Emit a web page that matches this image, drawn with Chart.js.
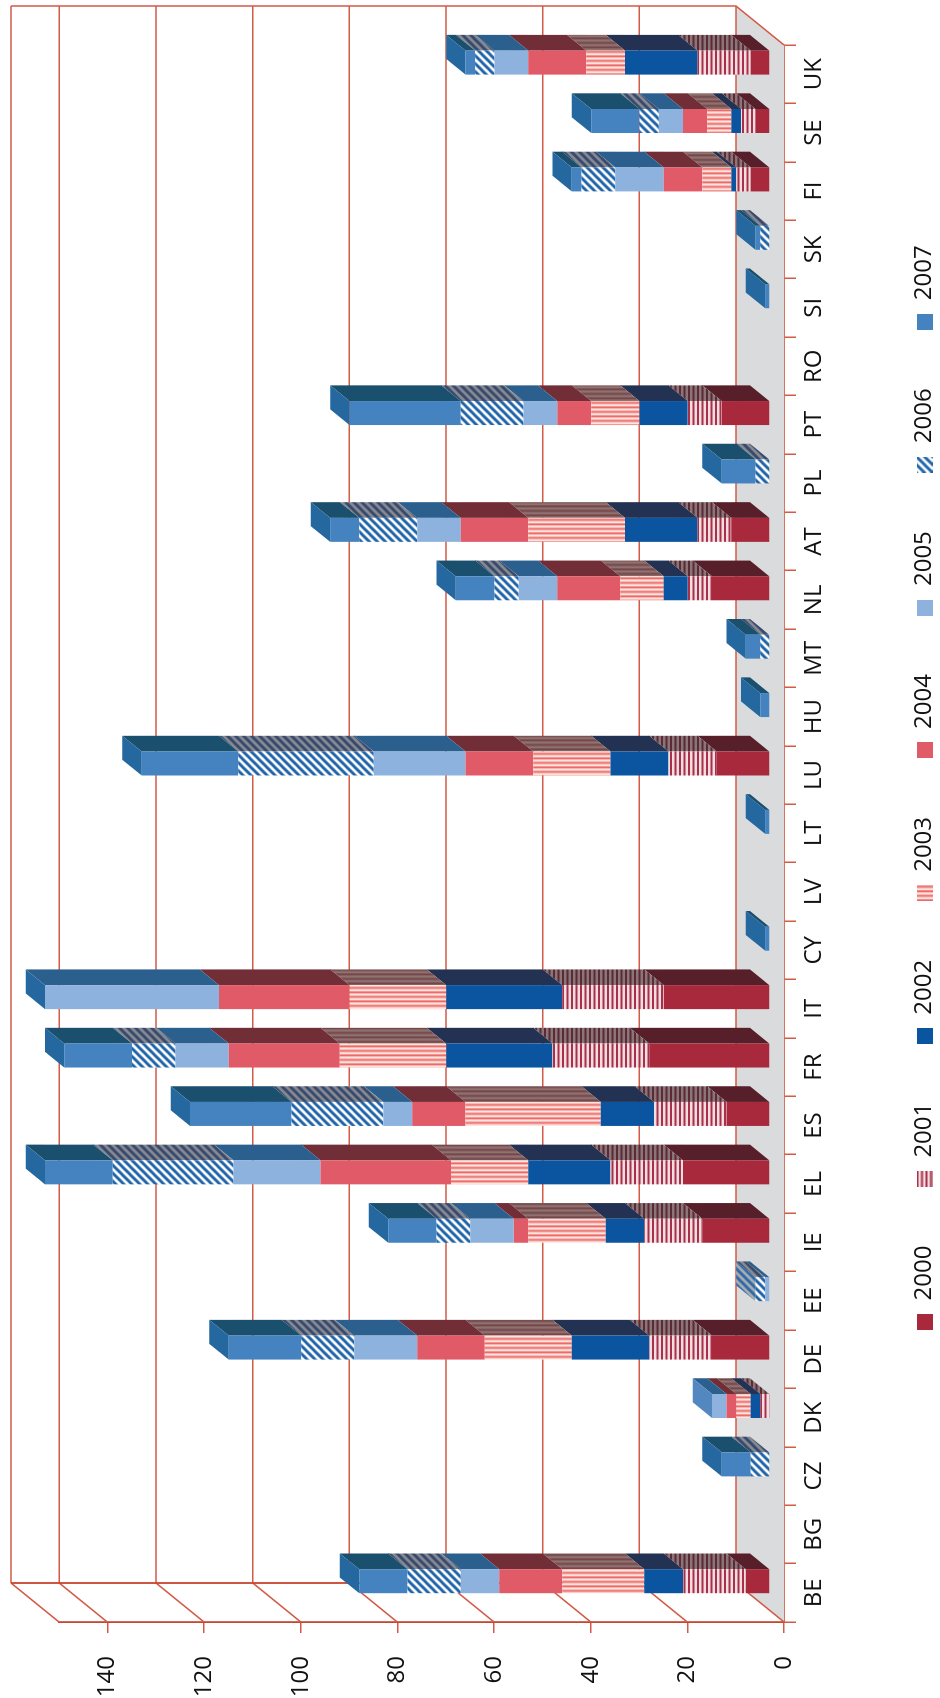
<!DOCTYPE html>
<html>
<head>
<meta charset="utf-8">
<style>
html,body{margin:0;padding:0;background:#fff;overflow:hidden;width:940px;height:1698px}
#wrap{position:absolute;left:0;top:0;width:1698px;height:940px;transform-origin:0 0;transform:translateY(1698px) rotate(-90deg)}
canvas{display:block}
</style>
<script src="https://cdn.jsdelivr.net/npm/chart.js@4/dist/chart.umd.min.js"></script>
</head>
<body>
<div id="wrap"><canvas id="c" width="1698" height="940"></canvas></div>
<script>
const categories = ['BE','BG','CZ','DK','DE','EE','IE','EL','ES','FR','IT','CY','LV','LT','LU','HU','MT','NL','AT','PL','PT','RO','SI','SK','FI','SE','UK'];
const years = ['2000','2001','2002','2003','2004','2005','2006','2007'];
const y2000 = [5,null,null,null,12,null,14,18,9,25,22,null,null,null,11,null,null,12,8,null,10,null,null,null,4,3,4];
const y2001 = [13,null,null,2,13,null,12,15,15,20,21,null,null,null,10,null,null,5,7,null,7,null,null,null,3,3,11];
const y2002 = [8,null,null,2,16,null,8,17,11,22,24,null,null,null,12,null,null,5,15,null,10,null,null,null,1,2,15];
const y2003 = [17,null,null,3,18,null,16,16,28,22,20,null,null,null,16,null,null,9,20,null,10,null,null,null,6,5,8];
const y2004 = [13,null,null,2,14,null,3,27,11,23,27,null,null,null,14,null,null,13,14,null,7,null,null,null,8,5,12];
const y2005 = [8,null,null,3,13,1,9,18,6,11,36,null,null,null,19,null,null,8,9,null,7,null,null,null,10,5,7];
const y2006 = [11,null,4,null,11,2,7,25,19,9,null,null,null,null,28,null,2,5,12,3,13,null,null,2,7,4,4];
const y2007 = [10,null,6,null,15,null,10,14,21,14,0,1,null,1,20,2,3,8,6,7,23,null,1,1,2,10,2];
const seriesValues = [y2000,y2001,y2002,y2003,y2004,y2005,y2006,y2007];
const valueMax = 150;
const valueStep = 20;

const AXIS = '#c9452f', GRID = '#d25a47', FLOOR = '#dadbdd';
const FONT = '"Open Sans", sans-serif';

function tile(w,h,draw){
  const t=document.createElement('canvas');t.width=w;t.height=h;
  draw(t.getContext('2d'),w,h);return t;
}
const ctx0=document.createElement('canvas').getContext('2d');
function pat(t){return ctx0.createPattern(t,'repeat');}
function hStripes(a,b){return tile(9,9,(g,w,h)=>{g.fillStyle=b;g.fillRect(0,0,w,h);g.fillStyle=a;g.fillRect(0,0,w,2);g.fillRect(0,4.5,w,2);});}
function vStripes(a,b){return tile(9,9,(g,w,h)=>{g.fillStyle=b;g.fillRect(0,0,w,h);g.fillStyle=a;g.fillRect(0,0,2,h);g.fillRect(4.5,0,2,h);});}
function diag(a,b){return tile(8,8,(g,w,h)=>{g.fillStyle=b;g.fillRect(0,0,w,h);g.strokeStyle=a;g.lineWidth=3;
  g.beginPath();g.moveTo(-2,2);g.lineTo(2,-2);g.moveTo(-2,10);g.lineTo(10,-2);g.moveTo(6,10);g.lineTo(10,6);g.stroke();});}

const frontTiles=[
  '#a8283c',
  hStripes('#a9304a','#f2dde0'),
  '#0b55a0',
  vStripes('#ec6a68','#fde2dd'),
  '#e15a67',
  '#8eb2de',
  diag('#1f64a8','#ffffff'),
  '#4583c0'
];
const sideTiles=[
  '#571f2a',
  hStripes('#5a2a35','#8b7578'),
  '#233252',
  vStripes('#75474a','#8f7170'),
  '#722e37',
  '#2b5f8d',
  diag('#39496b','#878b94'),
  '#1a4f6e'
];
const endTiles=[
  '#571f2a',
  '#8b3a4a',
  '#12447c',
  '#c25a5c',
  '#b84a55',
  '#5387c0',
  diag('#2f6aa6','#a9adb4'),
  '#24689f'
];
const paint=t=>typeof t==='string'?t:pat(t);
const swatches=frontTiles.map(t=>tile(16,16,(g,w,h)=>{g.fillStyle=typeof t==='string'?t:g.createPattern(t,'repeat');g.fillRect(0,0,w,h);}));

// 3D projection offsets, expressed in canvas px
const WALL_U=39, WALL_V=48;      // back wall behind the front axes
const BAR_U=11.6, BAR_V=14;      // bar front plane
const SIDE_U=15.7, SIDE_V=19.3;  // bar depth

const walls={
  id:'walls',
  beforeLayout(chart){
    const l=chart.legend;
    if(!l._flat){
      const fit=l.fit;
      l.fit=function(){fit.call(this);this.height=0;};
      l._flat=true;
    }
  },
  afterLayout(chart){
    const l=chart.legend;
    l.left=309.5;l.right=1698;l.top=855.5;l.bottom=940;l.width=1388.5;l.height=84.5;
  },
  beforeDatasetsDraw(chart){
    const {ctx,chartArea:a,scales:{y}}=chart;
    const f0=a.bottom, bx0=f0-WALL_V, L=a.left, R=a.right;
    ctx.save();
    ctx.fillStyle=FLOOR;
    ctx.beginPath();
    ctx.moveTo(L,f0);ctx.lineTo(R,f0);ctx.lineTo(R+WALL_U,bx0);ctx.lineTo(L+WALL_U,bx0);ctx.closePath();ctx.fill();
    // back wall grid and side wall diagonals
    ctx.strokeStyle=GRID;ctx.lineWidth=1.5;
    const vals=y.ticks.map(t=>t.value).concat([valueMax]);
    vals.forEach(val=>{
      const p=y.getPixelForValue(val);
      ctx.beginPath();ctx.moveTo(L+WALL_U,p-WALL_V);ctx.lineTo(R+WALL_U,p-WALL_V);ctx.stroke();
      ctx.beginPath();ctx.moveTo(L,p);ctx.lineTo(L+WALL_U,p-WALL_V);ctx.stroke();
    });
    const top=y.getPixelForValue(valueMax)-WALL_V;
    ctx.beginPath();ctx.moveTo(R+WALL_U,top);ctx.lineTo(R+WALL_U,bx0);ctx.lineTo(R,f0);ctx.stroke();
    ctx.strokeStyle=AXIS;ctx.lineWidth=1.8;
    ctx.beginPath();ctx.moveTo(L+WALL_U,top);ctx.lineTo(L+WALL_U,bx0);ctx.stroke();
    ctx.restore();

    // bars sit inside the depth of the floor
    ctx.save();
    ctx.translate(BAR_U,-BAR_V);
    const n=chart.data.datasets.length;
    categories.forEach((_,j)=>{
      let last=-1;
      for(let i=0;i<n;i++){ if(seriesValues[i][j]!==null) last=i; }
      if(last<0) return;
      for(let i=0;i<=last;i++){
        if(seriesValues[i][j]===null) continue;
        const b=chart.getDatasetMeta(i).data[j];
        const r=b.x+b.width/2;
        ctx.fillStyle=paint(sideTiles[i]);
        ctx.beginPath();
        ctx.moveTo(r,b.base);ctx.lineTo(r,b.y);ctx.lineTo(r+SIDE_U,b.y-SIDE_V);ctx.lineTo(r+SIDE_U,b.base-SIDE_V);
        ctx.closePath();ctx.fill();
      }
      const b=chart.getDatasetMeta(last).data[j];
      const l=b.x-b.width/2, r=b.x+b.width/2;
      ctx.fillStyle=paint(endTiles[last]);
      ctx.beginPath();
      ctx.moveTo(l,b.y);ctx.lineTo(r,b.y);ctx.lineTo(r+SIDE_U,b.y-SIDE_V);ctx.lineTo(l+SIDE_U,b.y-SIDE_V);
      ctx.closePath();ctx.fill();
    });
  },
  afterDatasetsDraw(chart){ chart.ctx.restore(); }
};

new Chart(document.getElementById('c'),{
  type:'bar',
  data:{
    labels:categories,
    datasets:years.map((yr,i)=>({
      label:yr,
      data:seriesValues[i],
      backgroundColor:paint(frontTiles[i]),
      borderWidth:0,
      barPercentage:0.411,
      categoryPercentage:1,
      clip:false
    }))
  },
  options:{
    responsive:false,
    animation:false,
    layout:{padding:{left:0,top:59,right:45,bottom:0}},
    plugins:{
      tooltip:{enabled:false},
      title:{display:false},
      legend:{
        display:true,
        position:'bottom',
        align:'start',
        labels:{
          usePointStyle:true,
          pointStyleWidth:19,
          padding:57,
          color:'#111',
          font:{family:FONT,size:24},
          generateLabels(chart){
            return chart.data.datasets.map((d,i)=>({text:d.label,fillStyle:'#000',strokeStyle:'transparent',lineWidth:0,pointStyle:swatches[i],datasetIndex:i,fontColor:'#111'}));
          }
        }
      }
    },
    scales:{
      x:{
        stacked:true,
        afterFit(s){s.height=156;},
        grid:{drawOnChartArea:false,drawTicks:true,tickLength:12,color:GRID,lineWidth:1.5},
        border:{display:true,color:AXIS,width:1.8},
        ticks:{autoSkip:false,maxRotation:0,minRotation:0,padding:4,color:'#111',font:{family:FONT,size:24}}
      },
      y:{
        stacked:true,
        min:0,max:valueMax,
        afterFit(s){s.width=76;},
        grid:{drawOnChartArea:false,drawTicks:true,tickLength:11,color:GRID,lineWidth:1.5},
        border:{display:true,color:AXIS,width:1.8},
        ticks:{stepSize:valueStep,includeBounds:false,padding:23,color:'#111',font:{family:FONT,size:24}}
      }
    }
  },
  plugins:[walls]
});
</script>
</body>
</html>
